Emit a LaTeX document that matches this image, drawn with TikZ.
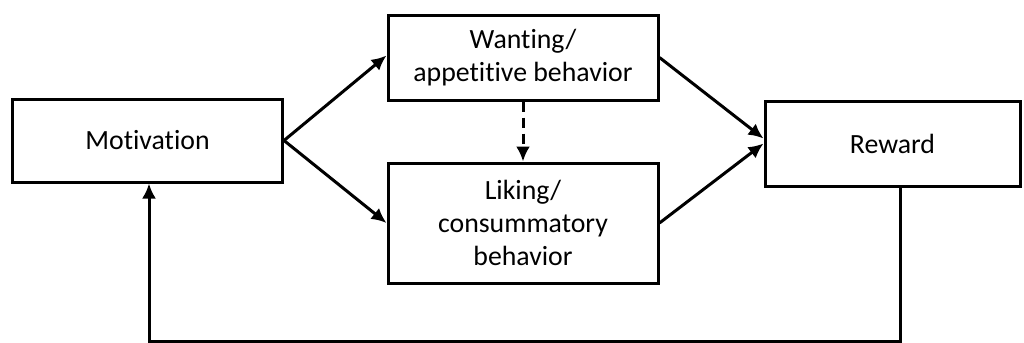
\documentclass[tikz,border=0pt]{standalone}
\usepackage{fontspec}
\setmainfont[Ligatures={NoCommon}]{Carlito}
\usetikzlibrary{arrows.meta}

\begin{document}
\begin{tikzpicture}[x=0.5pt, y=-0.5pt,
  every node/.style={draw, rectangle, line width=1.5pt, align=center, font=\fontsize{13.9}{16.6}\selectfont, inner sep=0pt},
  arr/.style={line width=1.5pt, -{Latex[length=7.5pt,width=7pt]}}]
\useasboundingbox (0,0) rectangle (1024,343);
\node[minimum width=135pt, minimum height=41.5pt] (Mot) at (147.5,140.5) {Motivation};
\node[minimum width=135pt, minimum height=42.5pt] (Want) at (523,57.5) {Wanting/\\appetitive behavior};
\node[minimum width=135pt, minimum height=60pt] (Like) at (523,223) {Liking/\\consummatory\\behavior};
\node[minimum width=127.5pt, minimum height=42.5pt] (Rew) at (892.5,143.5) {Reward};
\coordinate (FbR) at (900,341);
\coordinate (FbL) at (149,341);
\draw[arr] (Mot.east) -- ([yshift=1pt]Want.west);
\draw[arr] (Mot.east) -- (Like.west);
\draw[arr, dash pattern=on 5pt off 3pt] (Want.south) -- (Like.north);
\draw[arr] (Want.east) -- ([yshift=2.5pt]Rew.west);
\draw[arr] (Like.east) -- (Rew.west);
\draw[arr] (Rew.south -| FbR) -- (FbR) -- (FbL) -- (FbL |- Mot.south);
\end{tikzpicture}
\end{document}
